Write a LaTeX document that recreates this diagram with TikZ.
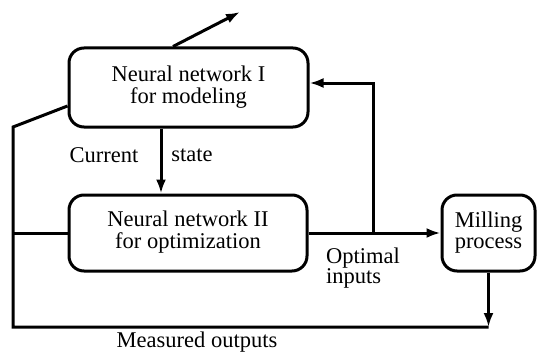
\documentclass[tikz,border=0pt]{standalone}
\usepackage{fontspec}
\setmainfont{Liberation Serif}
\usetikzlibrary{arrows.meta,calc}
\newcommand{\twolines}[3]{\begin{tabular}{@{}c@{}}#1\\#2\end{tabular}\hspace{#3}}
\begin{document}
\begin{tikzpicture}[x=1pt,y=-1pt,
  box/.style={draw,line width=3pt,rounded corners=15pt,inner sep=0pt,
    font=\fontsize{22.5}{20}\selectfont},
  conn/.style={line width=3pt},
  arr/.style={conn,-{Latex[length=14pt,width=10pt]}},
  lbl/.style={font=\fontsize{22.5}{17}\selectfont,inner sep=0pt}]
\useasboundingbox (0,0) rectangle (537,353);
\node[box,minimum width=239pt,minimum height=79pt] (nn1) at (188.5,87.5) {\twolines{Neural network I}{for modeling}{15pt}};
\node[box,minimum width=238pt,minimum height=76pt] (nn2) at (188,233) {\twolines{Neural network II}{for optimization}{6pt}};
\node[box,minimum width=93pt,minimum height=76pt,font=\fontsize{22.5}{21}\selectfont] (mill) at (488.5,233) {\begin{tabular}{@{}l@{}}Milling\\process\end{tabular}};
\coordinate (up) at (240,12);
\coordinate (s1) at (173,0);
\coordinate (lt) at (13,127);
\coordinate (lb) at (13,327);
\coordinate (br) at (373,0);
\coordinate (cs) at (161,0);
% arrow to top
\draw[arr] (nn1.north -| s1) -- (up);
% current state
\draw[arr] (nn1.south -| cs) -- (nn2.north -| cs);
% optimal inputs
\draw[arr] (nn2.east) -- (mill.west);
\draw[arr] (nn2.east -| br) -- (br |- 0,83) -- (nn1.east |- 0,83);
% feedback from nn1 and measured outputs
\draw[conn] ($(nn1.west)+(0,18.5)$) -- (lt) -- (lb) -- (lb -| mill.south);
\draw[arr] (mill.south) -- (lb -| mill.south);
\draw[conn] (nn2.west -| lt) -- (nn2.west);
% labels
\node[lbl] (lcur) at (104,155) {Current};
\node[lbl] (lst) at (192,155) {state};
\node[lbl,align=left] (lopt) at (363,268) {Optimal\\inputs};
\node[lbl] (lmeas) at (197,342) {Measured outputs};
\end{tikzpicture}
\end{document}
